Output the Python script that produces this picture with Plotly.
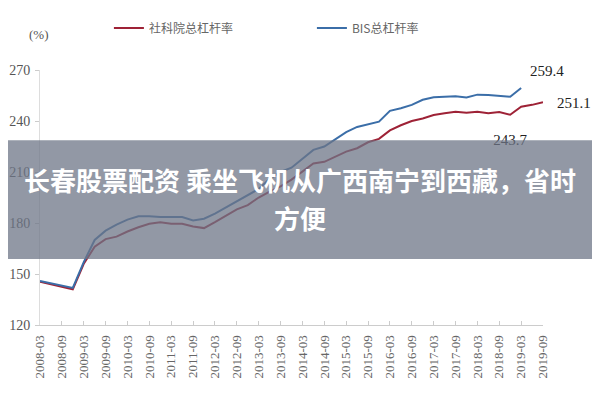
import plotly.graph_objects as go

quarters = [f"{y}-{m:02d}" for y in range(2008, 2020) for m in (3, 6, 9, 12)][:47]
tick_labels = quarters[::2]

cass_name = "社科院总杠杆率"
cass = [145.5, 144.0, 142.5, 141.0, 156.0, 166.0, 170.5, 172.0, 175.0, 177.5,
        179.5, 180.5, 179.5, 179.5, 178.0, 177.0, 180.5, 184.0, 188.0, 190.5,
        195.0, 198.5, 201.5, 205.5, 210.5, 215.0, 216.0, 219.0, 222.0, 224.0,
        227.5, 229.5, 234.5, 237.5, 240.0, 241.5, 243.5, 244.5, 245.5, 244.8,
        245.5, 244.6, 245.3, 243.7, 248.4, 249.5, 251.1]

bis_name = "BIS总杠杆率"
bis = [145.9, 144.5, 143.2, 141.8, 157.0, 170.0, 175.5, 179.0, 182.0, 184.0,
       184.0, 183.5, 183.5, 183.5, 181.5, 182.5, 185.5, 189.0, 192.5, 196.0,
       200.0, 206.0, 210.0, 212.5, 218.0, 223.0, 225.0, 229.0, 233.5, 236.5,
       238.0, 239.6, 246.0, 247.5, 249.5, 252.5, 254.0, 254.3, 254.5, 253.8,
       255.5, 255.3, 255.0, 254.3, 259.4]

y_ticks = [120, 150, 180, 210, 240, 270]

banner_line1 = "长春股票配资 乘坐飞机从广西南宁到西藏，省时"
banner_line2 = "方便"

RED = "#9e2236"
BLUE = "#3b6ea8"
SERIF = "Liberation Serif"

fig = go.Figure()
fig.add_trace(go.Scatter(x=quarters[:len(cass)], y=cass, mode="lines", name=cass_name,
                         line=dict(color=RED, width=2)))
fig.add_trace(go.Scatter(x=quarters[:len(bis)], y=bis, mode="lines", name=bis_name,
                         line=dict(color=BLUE, width=2)))

# dip label (drawn under the banner)
fig.add_trace(go.Scatter(x=[quarters[43]], y=[cass[43]], mode="text",
                         text=[f"<br>{cass[43]:.1f}"], textposition="bottom center",
                         textfont=dict(family=SERIF, size=15, color="#222"),
                         showlegend=False, cliponaxis=False, hoverinfo="skip"))

fig.add_annotation(x=quarters[len(bis) - 1], y=bis[-1], text=f"{bis[-1]:.1f}",
                   showarrow=False, xshift=26, yshift=17,
                   font=dict(family=SERIF, size=15, color="#222"))
fig.add_annotation(x=quarters[len(cass) - 1], y=cass[-1], text=f"{cass[-1]:.1f}",
                   showarrow=False, xshift=31, yshift=-1,
                   font=dict(family=SERIF, size=15, color="#222"))
fig.add_annotation(xref="paper", yref="paper", x=-0.026, y=1.176, text="(%)",
                   showarrow=False, font=dict(family=SERIF, size=13, color="#555"))

# banner overlay
fig.add_shape(type="rect", xref="paper", yref="paper", x0=-0.2, x1=1.2,
              y0=0.259, y1=0.725, fillcolor="rgba(110,118,135,0.75)",
              line=dict(width=0), layer="above")
fig.add_annotation(xref="paper", yref="paper", x=0.517, y=0.569, text=banner_line1,
                   showarrow=False,
                   font=dict(family="Noto Sans CJK SC", size=26, color="white", weight="bold"))
fig.add_annotation(xref="paper", yref="paper", x=0.517, y=0.42, text=banner_line2,
                   showarrow=False,
                   font=dict(family="Noto Sans CJK SC", size=26, color="white", weight="bold"))

fig.update_layout(
    width=600, height=400,
    margin=dict(l=32, r=65, t=62, b=83, autoexpand=False),
    paper_bgcolor="white", plot_bgcolor="white",
    showlegend=True,
    legend=dict(orientation="h", x=0.137, y=1.165, xanchor="left", yanchor="middle",
                entrywidth=158, entrywidthmode="pixels",
                font=dict(family="Noto Sans CJK SC", size=12, color="#666"),
                bgcolor="rgba(0,0,0,0)"),
    xaxis=dict(type="category", categoryorder="array", categoryarray=quarters,
               range=[0, 46], tickmode="array", tickvals=tick_labels, ticktext=tick_labels,
               tickangle=-90, ticks="inside", ticklen=4, tickcolor="#ccc",
               showline=True, linecolor="#ccc", showgrid=False, zeroline=False,
               ticklabelstandoff=4,
               tickfont=dict(family=SERIF, size=13, color="#666")),
    yaxis=dict(range=[120, 270], tickvals=y_ticks, ticks="outside", ticklen=4,
               tickcolor="#ccc", showline=True, linecolor="#ddd", showgrid=False,
               zeroline=False, ticklabelstandoff=2,
               tickfont=dict(family=SERIF, size=14, color="#555")),
)

fig.write_html("out.html")
